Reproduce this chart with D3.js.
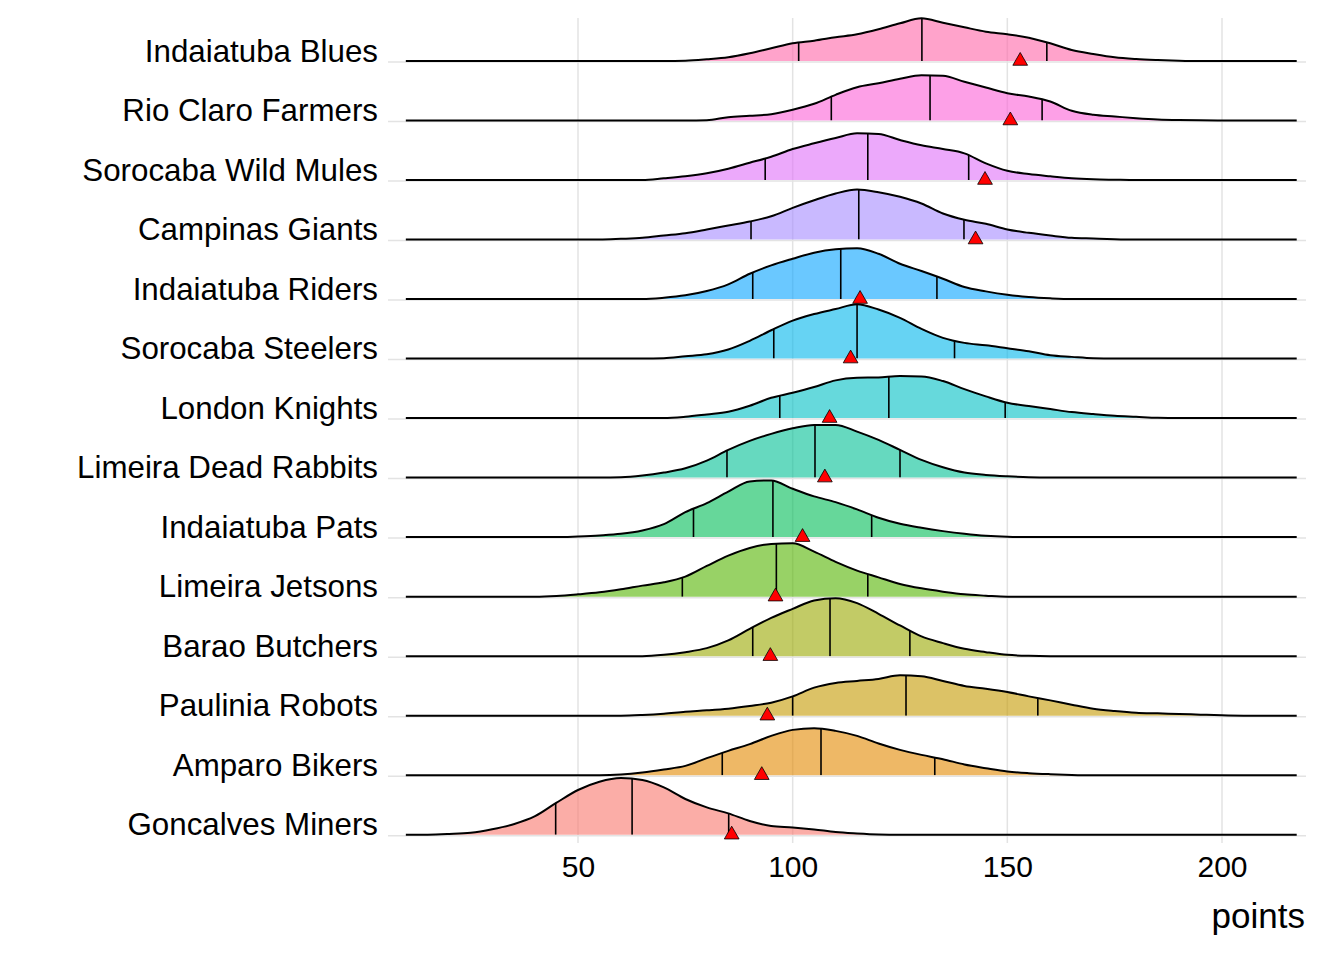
<!doctype html>
<html>
<head>
<meta charset="utf-8">
<script src="https://d3js.org/d3.v7.min.js"></script>
<style>
    body { margin: 0; background: #fff; }
    svg text { font-family: "Liberation Sans", Arial, sans-serif; fill: #000; }
</style>
</head>
<body>
<script>
// rows, bottom first (same order as ggplot factor levels)
var teams = ["Goncalves Miners", "Amparo Bikers", "Paulinia Robots", "Barao Butchers",
             "Limeira Jetsons", "Indaiatuba Pats", "Limeira Dead Rabbits", "London Knights",
             "Sorocaba Steelers", "Indaiatuba Riders", "Campinas Giants", "Sorocaba Wild Mules",
             "Rio Claro Farmers", "Indaiatuba Blues"];

var fills = ["#F8766D", "#E38900", "#C49A00", "#99A800", "#53B400", "#00BC56", "#00C094",
             "#00BFC4", "#00B6EB", "#06A4FF", "#A58AFF", "#DF70F8", "#FB61D7", "#FF66A8"];

// density grid (points) and ridge heights
var densityX = [10, 15, 20, 25, 30, 35, 40, 45, 50, 55, 60, 65, 70, 75, 80, 85, 90, 95, 100, 105,
                110, 115, 120, 125, 130, 135, 140, 145, 150, 155, 160, 165, 170, 175, 180, 185,
                190, 195, 200, 205, 210, 215];
var lineRange = [9.9, 217.4];

var densities = [
  // Goncalves Miners
  [0,0,0.7,2,5.5,10.5,18.5,32,44.7,53,56.7,54.7,47.3,35.7,27.3,21.3,13.7,8.7,7.3,5.3,2.7,1.3,0.3,
   0,0,0,0,0,0,0,0,0,0,0,0,0,0,0,0,0,0,0],
  // Amparo Bikers
  [0,0,0,0,0,0,0,0,0,0,0.7,2.7,5.7,9.3,17,24.3,31,39.3,45.3,47,44.3,39.3,31.7,25.3,20.3,16,10.7,7,
   3.7,2,1,0.3,0,0,0,0,0,0,0,0,0,0],
  // Paulinia Robots
  [0,0,0,0,0,0,0,0,0,0,0,0.7,2,4,5.3,7,9.7,13,19.3,28,32.7,34.7,36.7,40.3,39.5,34.7,29.7,27,23.7,
   19.3,15.3,11,7,4.7,3,2.3,1.7,1,0.3,0,0,0],
  // Barao Butchers
  [0,0,0,0,0,0,0,0,0,0,0,0,1.3,4,8,15.7,27.3,38.3,47.3,55.7,58,53,42.3,30.7,19.7,13,7.3,4,1.3,0.3,
   0,0,0,0,0,0,0,0,0,0,0,0],
  // Limeira Jetsons
  [0,0,0,0,0,0,0,0.7,2.3,4.3,7.3,11,14.3,20,30.7,41,48.7,52.7,53.3,45,34.7,26,19.3,12.7,8.3,5,2.3,1,
   0,0,0,0,0,0,0,0,0,0,0,0,0,0],
  // Indaiatuba Pats
  [0,0,0,0,0,0,0,0,0.7,1.7,3.3,6.7,13,25,34,45.5,55.7,56.7,48.3,40.7,35,27.7,19.3,13.3,9.3,6,3.3,1.3,
   0.3,0,0,0,0,0,0,0,0,0,0,0,0,0],
  // Limeira Dead Rabbits
  [0,0,0,0,0,0,0,0,0,0,0.3,2,5,9.3,17,27.7,36.7,43.7,49.3,52.7,52.7,46,37.7,27.7,17.7,10.3,5,2.7,1.3,
   0.3,0,0,0,0,0,0,0,0,0,0,0,0],
  // London Knights
  [0,0,0,0,0,0,0,0,0,0,0,0,0,1.3,3.7,6.3,12.3,20.3,25.3,31,37.7,40.3,40.7,42,41.7,37,29,21.7,15.3,
   12,9,6,4,2.3,1.3,0.3,0,0,0,0,0,0],
  // Sorocaba Steelers
  [0,0,0,0,0,0,0,0,0,0,0,0,0.3,2.3,4.3,9,17.7,28.3,38,44.5,49.5,54.3,49,40.7,29.7,20.7,15.7,13.3,
   10.3,7.3,3.3,1.7,0.3,0,0,0,0,0,0,0,0,0],
  // Indaiatuba Riders
  [0,0,0,0,0,0,0,0,0,0,0,0,1.3,3.7,8,14.7,25.3,33.7,40.3,46.3,49.7,50.7,45.3,35.3,28,20.3,12,7.7,
   4.3,2,0.7,0,0,0,0,0,0,0,0,0,0,0],
  // Campinas Giants
  [0,0,0,0,0,0,0,0,0,0,0.7,1.7,4,6.3,10,14,18,23.3,31.7,39.3,46,50,47.3,42.7,36,26,19.7,15.7,10,6.7,
   4,1.7,1,0.3,0,0,0,0,0,0,0,0],
  // Sorocaba Wild Mules
  [0,0,0,0,0,0,0,0,0,0,0,0,1.7,3.7,6.7,11.3,17.3,23.3,31,36.7,42,46.7,46,40,34.7,31,26.7,16.7,9.3,
   6,3.7,1.7,0.7,0.3,0,0,0,0,0,0,0,0],
  // Rio Claro Farmers
  [0,0,0,0,0,0,0,0,0,0,0,0,0,0,0.3,3.3,4.7,6.3,10.7,16.7,25.7,33.3,37.3,41.7,45.3,44.7,38.7,33,27.3,
   24,19,9.7,5.7,4,2.3,1,0.4,0.2,0,0,0,0],
  // Indaiatuba Blues
  [0,0,0,0,0,0,0,0,0,0,0,0,0,0.3,1.7,3.7,7.7,12.7,17.7,20.3,23.7,26.7,31.7,37.7,42.7,38.3,33.7,29.3,
   26.7,23.3,17.7,11,7,3.7,2,1,0.3,0,0,0,0,0]
];

// quartile lines and mean (red triangles), same order as teams
var q25 = [44.8, 83.6, 100.0, 90.7, 74.3, 76.9, 84.7, 97.0, 95.6, 90.7, 90.3, 93.6, 109.0, 101.4];
var q50 = [62.6, 106.6, 126.4, 108.7, 96.2, 95.4, 105.2, 122.4, 115.0, 111.2, 115.4, 117.5, 132.0, 130.1];
var q75 = [85.1, 133.1, 157.1, 127.3, 117.5, 118.4, 125.0, 149.5, 137.7, 133.6, 139.9, 141.0, 158.1, 159.2];
var means = [85.8, 92.8, 94.1, 94.8, 96.0, 102.3, 107.5, 108.6, 113.5, 115.7, 142.6, 144.8, 150.7, 153.0];

var xTicks = [50, 100, 150, 200];

var width = 1344, height = 960;
var panel = { left: 388, right: 1306, top: 18, bottom: 843 };

var svg = d3.select("body").append("svg")
    .attr("width", width)
    .attr("height", height);

var x = d3.scaleLinear().domain([50, 200]).range([578, 1222]);
var y = d3.scalePoint().domain(teams).range([834.7, 61]);
var h = d3.scaleLinear().domain([0, 59.5]).range([0, y.step()]);

// grid
svg.append("g").selectAll("line.v")
    .data(xTicks).enter().append("line")
    .attr("x1", function (d) { return x(d); })
    .attr("x2", function (d) { return x(d); })
    .attr("y1", panel.top).attr("y2", panel.bottom)
    .attr("stroke", "#e3e3e3").attr("stroke-width", 1.5);

svg.append("g").selectAll("line.h")
    .data(teams).enter().append("line")
    .attr("x1", panel.left).attr("x2", panel.right)
    .attr("y1", function (d) { return y(d) + 1; })
    .attr("y2", function (d) { return y(d) + 1; })
    .attr("stroke", "#e3e3e3").attr("stroke-width", 1.5);

// ridges, top row first so lower rows sit above
var order = d3.range(teams.length).reverse();

order.forEach(function (i) {
    var base = y(teams[i]);
    var pts = densityX.map(function (v, k) { return [v, densities[i][k]]; });
    var full = [[lineRange[0], 0]].concat(pts, [[lineRange[1], 0]]);

    var area = d3.area()
        .curve(d3.curveMonotoneX)
        .x(function (d) { return x(d[0]); })
        .y0(base)
        .y1(function (d) { return base - h(d[1]); });

    var line = d3.line()
        .curve(d3.curveMonotoneX)
        .x(function (d) { return x(d[0]); })
        .y(function (d) { return base - h(d[1]); });

    var g = svg.append("g");

    g.append("clipPath").attr("id", "clip" + i)
        .append("path").attr("d", area(full));

    g.append("path")
        .attr("d", area(full))
        .attr("fill", fills[i])
        .attr("fill-opacity", 0.6);

    g.append("g").attr("clip-path", "url(#clip" + i + ")")
        .selectAll("line")
        .data([q25[i], q50[i], q75[i]]).enter().append("line")
        .attr("x1", function (d) { return x(d); })
        .attr("x2", function (d) { return x(d); })
        .attr("y1", base)
        .attr("y2", base - h(80))
        .attr("stroke", "#000")
        .attr("stroke-width", 1.6);

    g.append("path")
        .attr("d", line(full))
        .attr("fill", "none")
        .attr("stroke", "#000")
        .attr("stroke-width", 2);
});

// means
svg.append("g").selectAll("path")
    .data(means).enter().append("path")
    .attr("d", d3.symbol().type(d3.symbolTriangle).size(94))
    .attr("transform", function (d, i) {
        return "translate(" + x(d) + "," + y(teams[i]) + ")";
    })
    .attr("fill", "#ff0000")
    .attr("stroke", "#000")
    .attr("stroke-width", 0.8);

// y labels
svg.append("g").selectAll("text")
    .data(teams).enter().append("text")
    .attr("x", 378)
    .attr("y", function (d) { return y(d) + 0.7; })
    .attr("text-anchor", "end")
    .style("font-size", "31.3px")
    .text(function (d) { return d; });

// x axis
var xAxis = svg.append("g")
    .attr("transform", "translate(0," + panel.bottom + ")")
    .call(d3.axisBottom(x).tickValues(xTicks).tickSize(0).tickPadding(12.7));
xAxis.select(".domain").remove();
xAxis.selectAll("text")
    .style("font-size", "30px")
    .style("font-family", "'Liberation Sans', Arial, sans-serif")
    .attr("fill", "#000");

svg.append("text")
    .attr("x", 1305)
    .attr("y", 928)
    .attr("text-anchor", "end")
    .style("font-size", "35px")
    .text("points");
</script>
</body>
</html>
